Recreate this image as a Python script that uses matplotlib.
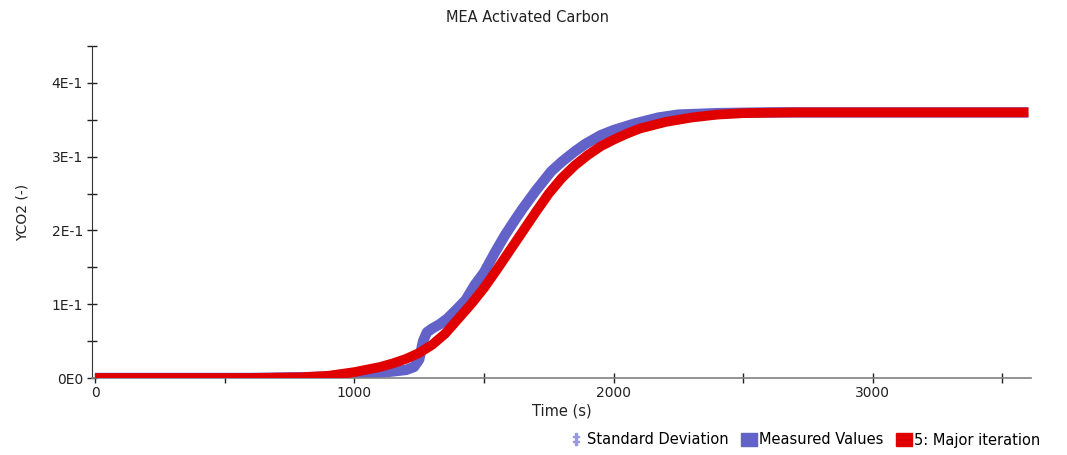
import numpy as np
import matplotlib.pyplot as plt
from matplotlib.lines import Line2D
from matplotlib.patches import Patch
from matplotlib.ticker import MultipleLocator, FixedLocator

# measured CO2 fraction
t_meas = [0, 200, 400, 600, 800, 900, 1000, 1100, 1150, 1200, 1230, 1250, 1265, 1280,
          1300, 1330, 1360, 1400, 1430, 1464, 1500, 1542, 1580, 1619, 1650, 1700,
          1759, 1800, 1850, 1890, 1950, 2000, 2083, 2173, 2250, 2405, 2600, 3000, 3600]
y_meas = [0.0, 0.0, 0.0, 0.0, 0.001, 0.002, 0.004, 0.007, 0.009, 0.011, 0.015, 0.025, 0.050, 0.062,
          0.067, 0.073, 0.081, 0.095, 0.106, 0.126, 0.143, 0.170, 0.193, 0.214, 0.230, 0.254,
          0.280, 0.293, 0.307, 0.317, 0.329, 0.336, 0.345, 0.353, 0.357, 0.359, 0.36, 0.36, 0.36]

# model curve, major iteration 5
t_model = [0, 200, 400, 600, 700, 800, 900, 1000, 1100, 1150, 1200, 1250, 1300, 1350,
           1400, 1450, 1500, 1550, 1600, 1650, 1700, 1750, 1800, 1850, 1900, 1950, 2000,
           2050, 2100, 2200, 2300, 2400, 2500, 2700, 3000, 3300, 3600]
y_model = [0.0, 0.0, 0.0, 0.0, 0.0005, 0.001, 0.003, 0.008, 0.015, 0.020, 0.026, 0.034, 0.045, 0.060,
           0.080, 0.100, 0.122, 0.147, 0.173, 0.199, 0.225, 0.250, 0.271, 0.288, 0.302, 0.314, 0.323,
           0.331, 0.338, 0.347, 0.353, 0.357, 0.359, 0.36, 0.36, 0.36, 0.36]

y_ticks = [0.0, 0.1, 0.2, 0.3, 0.4]
y_tick_labels = ['0E0', '1E-1', '2E-1', '3E-1', '4E-1']
x_ticks = [0, 1000, 2000, 3000]

blue = '#6262c8'
red = '#e00000'
text_col = '#222222'

fig = plt.figure(figsize=(10.67, 4.55), dpi=100)
ax = fig.add_axes([92 / 1067, 1 - 378 / 455, (1031 - 92) / 1067, (378 - 46) / 455])

ax.plot(t_meas, y_meas, color=blue, linewidth=7.5, solid_capstyle='butt', zorder=2)
ax.plot(t_model, y_model, color=red, linewidth=7, solid_capstyle='butt', zorder=3)

ax.set_xlim(-12, 3610)
ax.set_ylim(0, 0.45)

for s in ['top', 'right']:
    ax.spines[s].set_visible(False)
ax.spines['left'].set_color('#333333')
ax.spines['bottom'].set_color('#808080')
ax.spines['bottom'].set_linewidth(1.2)

ax.yaxis.set_major_locator(FixedLocator(y_ticks))
ax.set_yticklabels(y_tick_labels)
ax.yaxis.set_minor_locator(MultipleLocator(0.05))
ax.xaxis.set_major_locator(FixedLocator(x_ticks))
ax.xaxis.set_minor_locator(MultipleLocator(500))
ax.tick_params(which='both', direction='inout', length=7, width=1, color=text_col,
               labelsize=10, labelcolor=text_col)
ax.tick_params(axis='y', pad=3)
ax.tick_params(axis='x', pad=2)

ax.set_xlabel('Time (s)', fontsize=10.5, color=text_col, labelpad=3)
ax.set_ylabel('YCO2 (-)', fontsize=10, color=text_col, labelpad=16)
fig.text(528 / 1067, 1 - 18 / 455, 'MEA Activated Carbon', ha='center', va='center',
         fontsize=10.5, color=text_col)

handles = [
    Line2D([], [], linestyle='none', marker='$\u2021$', markersize=9, color='#9999dd'),
    Patch(facecolor=blue, edgecolor=blue),
    Patch(facecolor=red, edgecolor=red),
]
labels = ['Standard Deviation', 'Measured Values', '5: Major iteration']
fig.legend(handles, labels, loc='center right', bbox_to_anchor=(1048 / 1067, 1 - 440 / 455),
           ncol=3, frameon=False, fontsize=10.5, handlelength=1.1, handleheight=1.0,
           handletextpad=0.2, columnspacing=0.8, borderpad=0)

fig.savefig('out.png', dpi=100)
